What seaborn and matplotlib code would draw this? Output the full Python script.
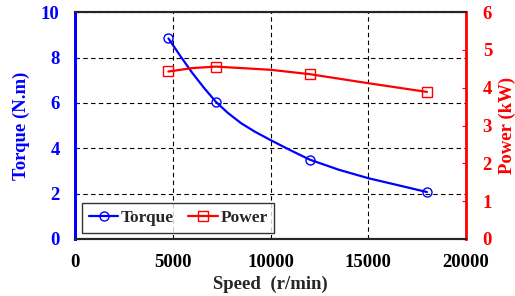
import numpy as np
import pandas as pd
import matplotlib
matplotlib.use("Agg")
import matplotlib.pyplot as plt
import seaborn as sns
from matplotlib.lines import Line2D

# measured points (markers)
speed = [4780, 7200, 12000, 18000]
torque = [8.84, 6.05, 3.50, 2.07]
power = [4.43, 4.56, 4.36, 3.89]

# points
curve_speed_t = [4780, 5400, 6000, 6600, 7200, 7800, 8500, 9200, 10000,
                 11000, 12000, 13500, 15000, 18000]
curve_torque = [8.84, 8.05, 7.32, 6.66, 6.05, 5.57, 5.10, 4.73, 4.36,
                3.92, 3.50, 3.05, 2.68, 2.07]
curve_speed_p = [4780, 6000, 7200, 10000, 12000, 15000, 18000]
curve_power = [4.43, 4.52, 4.56, 4.475, 4.36, 4.12, 3.89]

sns.set_style("white")
plt.rcParams['font.family'] = ['Liberation Serif', 'DejaVu Serif']
plt.rcParams['font.weight'] = 'bold'

fig = plt.figure(figsize=(5.15, 2.96), dpi=100)
ax = fig.add_axes([0.1456, 0.1926, 0.7594, 0.7664])
ax2 = ax.twinx()

sns.lineplot(x=curve_speed_t, y=curve_torque, ax=ax, color='#0000ff', lw=1.6)
sns.lineplot(x=curve_speed_p, y=curve_power, ax=ax2, color='#ff0000', lw=1.6)
ax.plot(speed, torque, 'o', ms=6.5, mfc='none', mec='#0000ff', mew=1.0)
ax2.plot(speed, power, 's', ms=7, mfc='none', mec='#ff0000', mew=1.0)

ax.set_xlim(0, 20000)
ax.set_ylim(0, 10)
ax2.set_ylim(0, 6)
ax.set_xticks([0, 5000, 10000, 15000, 20000])
ax.set_yticks([0, 2, 4, 6, 8, 10])
ax2.set_yticks([0, 1, 2, 3, 4, 5, 6])

ax.grid(True, color='black', ls=(0, (4, 3)), lw=0.8)
ax.set_axisbelow(True)

ax.tick_params(axis='x', direction='in', length=3, labelsize=13.5, colors='black', pad=11)
ax.tick_params(axis='y', direction='in', length=3, labelsize=13.5, colors='#0000ff', pad=11)
ax2.tick_params(axis='y', direction='in', length=3, labelsize=13.5, colors='#ff0000', pad=12)
for lab in ax.get_xticklabels() + ax.get_yticklabels() + ax2.get_yticklabels():
    lab.set_fontweight('bold')

for s in ['top', 'bottom']:
    ax.spines[s].set_color('black')
    ax.spines[s].set_linewidth(1.5)
ax.spines['left'].set_color('#0000ff')
ax.spines['left'].set_linewidth(2)
ax2.spines['left'].set_color('#0000ff')
ax2.spines['left'].set_linewidth(2)
ax2.spines['right'].set_color('#ff0000')
ax2.spines['right'].set_linewidth(2)
ax2.spines['top'].set_linewidth(1.5)
ax2.spines['bottom'].set_linewidth(1.5)

ax.set_xlabel('Speed  (r/min)', fontsize=13.5, fontweight='bold', labelpad=3)
ax.set_ylabel('Torque (N.m)', fontsize=13.5, fontweight='bold', color='#0000ff', labelpad=8)
ax2.set_ylabel('Power (kW)', fontsize=13.5, fontweight='bold', color='#ff0000', labelpad=5)

handles = [
    Line2D([0], [0], color='#0000ff', lw=1.6, marker='o', ms=6.5, mfc='none', mec='#0000ff'),
    Line2D([0], [0], color='#ff0000', lw=1.6, marker='s', ms=7, mfc='none', mec='#ff0000'),
]
leg = ax2.legend(handles, ['Torque', 'Power'], loc='lower left', ncol=2,
                 bbox_to_anchor=(0.018, 0.026), frameon=True, fancybox=False,
                 edgecolor='black', handlelength=1.7, columnspacing=0.8,
                 handletextpad=0.15, borderpad=0.4, borderaxespad=0,
                 prop={'weight': 'bold', 'size': 12.5})
leg.get_frame().set_linewidth(1.0)

fig.savefig('out.png', dpi=100)
